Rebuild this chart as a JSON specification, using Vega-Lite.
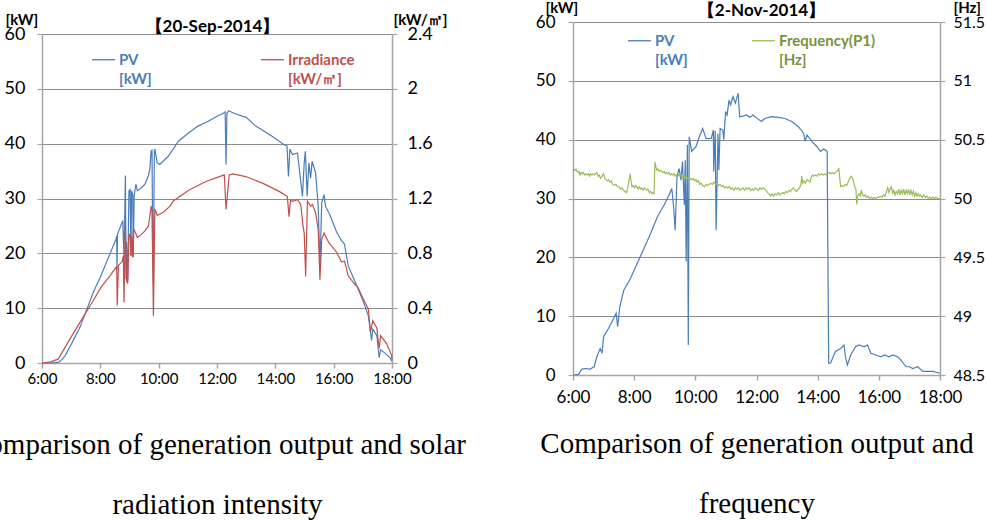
{
  "$schema": "https://vega.github.io/schema/vega-lite/v6.json",
  "autosize": {"type": "none"},
  "padding": {"left": 42, "top": 22, "right": 0, "bottom": 0},
  "params": [{"name": "width", "value": 945}, {"name": "height", "value": 499}],
  "background": "white",
  "bounds": "flush",
  "center": true,
  "spacing": 181,
  "resolve": {"scale": {"color": "independent"}, "legend": {"color": "independent"}},
  "config": {"view": {"stroke": null}, "font": "Lato"},
  "datasets": {
    "L": [
      {"t":6,"v":0,"s":"PV"},{"t":6.3,"v":0,"s":"PV"},{"t":6.55,"v":0.1,"s":"PV"},{"t":6.62,"v":0.3,"s":"PV"},{"t":6.79,"v":1.3,"s":"PV"},{"t":7.0,"v":3.4,"s":"PV"},{"t":7.3,"v":6.5,"s":"PV"},{"t":7.76,"v":12.9,"s":"PV"},{"t":8.02,"v":15.9,"s":"PV"},{"t":8.33,"v":19.9,"s":"PV"},{"t":8.54,"v":22.6,"s":"PV"},{"t":8.56,"v":23.2,"s":"PV"},{"t":8.57,"v":17.1,"s":"PV"},{"t":8.59,"v":23.5,"s":"PV"},{"t":8.7,"v":25.0,"s":"PV"},{"t":8.77,"v":26.0,"s":"PV"},{"t":8.81,"v":19.0,"s":"PV"},{"t":8.84,"v":28.0,"s":"PV"},{"t":8.86,"v":34.2,"s":"PV"},{"t":8.88,"v":15.3,"s":"PV"},{"t":8.9,"v":22.0,"s":"PV"},{"t":8.94,"v":15.0,"s":"PV"},{"t":8.98,"v":31.4,"s":"PV"},{"t":9.02,"v":31.6,"s":"PV"},{"t":9.05,"v":19.5,"s":"PV"},{"t":9.07,"v":31.4,"s":"PV"},{"t":9.11,"v":30.8,"s":"PV"},{"t":9.13,"v":19.3,"s":"PV"},{"t":9.16,"v":30.5,"s":"PV"},{"t":9.22,"v":32.6,"s":"PV"},{"t":9.27,"v":31.4,"s":"PV"},{"t":9.42,"v":32.0,"s":"PV"},{"t":9.53,"v":32.6,"s":"PV"},{"t":9.65,"v":34.2,"s":"PV"},{"t":9.7,"v":35.5,"s":"PV"},{"t":9.74,"v":38.6,"s":"PV"},{"t":9.77,"v":38.8,"s":"PV"},{"t":9.8,"v":20.0,"s":"PV"},{"t":9.82,"v":14.0,"s":"PV"},{"t":9.85,"v":38.5,"s":"PV"},{"t":9.87,"v":39.0,"s":"PV"},{"t":9.95,"v":36.5,"s":"PV"},{"t":10.04,"v":36.2,"s":"PV"},{"t":10.33,"v":37.7,"s":"PV"},{"t":10.67,"v":40.4,"s":"PV"},{"t":11.01,"v":41.9,"s":"PV"},{"t":11.35,"v":43.2,"s":"PV"},{"t":11.7,"v":44.1,"s":"PV"},{"t":12.0,"v":45.0,"s":"PV"},{"t":12.2,"v":45.5,"s":"PV"},{"t":12.28,"v":45.8,"s":"PV"},{"t":12.31,"v":36.2,"s":"PV"},{"t":12.34,"v":45.5,"s":"PV"},{"t":12.4,"v":46.0,"s":"PV"},{"t":12.6,"v":45.5,"s":"PV"},{"t":13.0,"v":44.8,"s":"PV"},{"t":13.33,"v":43.2,"s":"PV"},{"t":13.9,"v":41.3,"s":"PV"},{"t":14.3,"v":39.8,"s":"PV"},{"t":14.4,"v":39.6,"s":"PV"},{"t":14.45,"v":34.0,"s":"PV"},{"t":14.5,"v":39.0,"s":"PV"},{"t":14.59,"v":38.0,"s":"PV"},{"t":14.76,"v":38.3,"s":"PV"},{"t":14.93,"v":30.4,"s":"PV"},{"t":14.99,"v":36.5,"s":"PV"},{"t":15.03,"v":38.6,"s":"PV"},{"t":15.09,"v":30.4,"s":"PV"},{"t":15.15,"v":36.5,"s":"PV"},{"t":15.21,"v":33.7,"s":"PV"},{"t":15.26,"v":36.8,"s":"PV"},{"t":15.38,"v":34.7,"s":"PV"},{"t":15.47,"v":28.6,"s":"PV"},{"t":15.53,"v":17.6,"s":"PV"},{"t":15.59,"v":29.2,"s":"PV"},{"t":15.67,"v":30.7,"s":"PV"},{"t":15.72,"v":28.6,"s":"PV"},{"t":15.87,"v":27.0,"s":"PV"},{"t":16.1,"v":23.9,"s":"PV"},{"t":16.27,"v":22.3,"s":"PV"},{"t":16.37,"v":21.7,"s":"PV"},{"t":16.5,"v":17.7,"s":"PV"},{"t":16.67,"v":15.6,"s":"PV"},{"t":16.84,"v":13.5,"s":"PV"},{"t":17.01,"v":11.3,"s":"PV"},{"t":17.19,"v":8.6,"s":"PV"},{"t":17.3,"v":4.1,"s":"PV"},{"t":17.34,"v":6.2,"s":"PV"},{"t":17.48,"v":5.0,"s":"PV"},{"t":17.56,"v":1.0,"s":"PV"},{"t":17.61,"v":2.4,"s":"PV"},{"t":17.76,"v":1.8,"s":"PV"},{"t":17.93,"v":1.0,"s":"PV"},{"t":18,"v":0.3,"s":"PV"},
      {"t":6,"v":0,"s":"Irr"},{"t":6.3,"v":0.008,"s":"Irr"},{"t":6.55,"v":0.028,"s":"Irr"},{"t":6.62,"v":0.052,"s":"Irr"},{"t":6.96,"v":0.176,"s":"Irr"},{"t":7.3,"v":0.296,"s":"Irr"},{"t":7.76,"v":0.456,"s":"Irr"},{"t":8.02,"v":0.552,"s":"Irr"},{"t":8.33,"v":0.636,"s":"Irr"},{"t":8.54,"v":0.7,"s":"Irr"},{"t":8.56,"v":0.7,"s":"Irr"},{"t":8.58,"v":0.42,"s":"Irr"},{"t":8.62,"v":0.712,"s":"Irr"},{"t":8.75,"v":0.74,"s":"Irr"},{"t":8.79,"v":0.784,"s":"Irr"},{"t":8.81,"v":0.444,"s":"Irr"},{"t":8.86,"v":1.0,"s":"Irr"},{"t":8.9,"v":0.6,"s":"Irr"},{"t":8.94,"v":0.58,"s":"Irr"},{"t":8.98,"v":0.928,"s":"Irr"},{"t":9.02,"v":0.94,"s":"Irr"},{"t":9.05,"v":0.784,"s":"Irr"},{"t":9.07,"v":0.928,"s":"Irr"},{"t":9.11,"v":0.772,"s":"Irr"},{"t":9.13,"v":0.964,"s":"Irr"},{"t":9.16,"v":0.972,"s":"Irr"},{"t":9.27,"v":0.916,"s":"Irr"},{"t":9.42,"v":0.94,"s":"Irr"},{"t":9.53,"v":0.964,"s":"Irr"},{"t":9.65,"v":1.0,"s":"Irr"},{"t":9.7,"v":1.076,"s":"Irr"},{"t":9.74,"v":1.144,"s":"Irr"},{"t":9.77,"v":1.112,"s":"Irr"},{"t":9.82,"v":0.344,"s":"Irr"},{"t":9.87,"v":1.124,"s":"Irr"},{"t":9.95,"v":1.076,"s":"Irr"},{"t":10.16,"v":1.1,"s":"Irr"},{"t":10.39,"v":1.144,"s":"Irr"},{"t":10.49,"v":1.18,"s":"Irr"},{"t":11.06,"v":1.264,"s":"Irr"},{"t":11.62,"v":1.324,"s":"Irr"},{"t":12.08,"v":1.36,"s":"Irr"},{"t":12.25,"v":1.372,"s":"Irr"},{"t":12.31,"v":1.12,"s":"Irr"},{"t":12.42,"v":1.372,"s":"Irr"},{"t":12.54,"v":1.38,"s":"Irr"},{"t":12.99,"v":1.36,"s":"Irr"},{"t":13.56,"v":1.312,"s":"Irr"},{"t":14.13,"v":1.252,"s":"Irr"},{"t":14.41,"v":1.216,"s":"Irr"},{"t":14.47,"v":1.068,"s":"Irr"},{"t":14.52,"v":1.19,"s":"Irr"},{"t":14.58,"v":1.18,"s":"Irr"},{"t":14.76,"v":1.192,"s":"Irr"},{"t":14.87,"v":1.156,"s":"Irr"},{"t":14.95,"v":0.996,"s":"Irr"},{"t":14.99,"v":0.948,"s":"Irr"},{"t":15.04,"v":0.632,"s":"Irr"},{"t":15.1,"v":1.18,"s":"Irr"},{"t":15.21,"v":1.144,"s":"Irr"},{"t":15.27,"v":1.156,"s":"Irr"},{"t":15.38,"v":1.096,"s":"Irr"},{"t":15.47,"v":0.972,"s":"Irr"},{"t":15.53,"v":0.608,"s":"Irr"},{"t":15.59,"v":0.9,"s":"Irr"},{"t":15.67,"v":0.948,"s":"Irr"},{"t":15.84,"v":0.876,"s":"Irr"},{"t":16.1,"v":0.808,"s":"Irr"},{"t":16.27,"v":0.736,"s":"Irr"},{"t":16.37,"v":0.744,"s":"Irr"},{"t":16.5,"v":0.636,"s":"Irr"},{"t":16.67,"v":0.588,"s":"Irr"},{"t":16.84,"v":0.548,"s":"Irr"},{"t":17.01,"v":0.468,"s":"Irr"},{"t":17.19,"v":0.392,"s":"Irr"},{"t":17.26,"v":0.224,"s":"Irr"},{"t":17.34,"v":0.308,"s":"Irr"},{"t":17.48,"v":0.256,"s":"Irr"},{"t":17.56,"v":0.104,"s":"Irr"},{"t":17.61,"v":0.2,"s":"Irr"},{"t":17.82,"v":0.14,"s":"Irr"},{"t":17.99,"v":0.052,"s":"Irr"},{"t":18,"v":0.024,"s":"Irr"}
    ],
    "R": [
      {"t":6,"v":0,"s":"PV"},{"t":6.18,"v":0.1,"s":"PV"},{"t":6.29,"v":1.0,"s":"PV"},{"t":6.4,"v":1.1,"s":"PV"},{"t":6.56,"v":1.0,"s":"PV"},{"t":6.69,"v":1.4,"s":"PV"},{"t":6.78,"v":3.1,"s":"PV"},{"t":6.89,"v":4.5,"s":"PV"},{"t":6.95,"v":3.7,"s":"PV"},{"t":7.0,"v":6.5,"s":"PV"},{"t":7.16,"v":7.9,"s":"PV"},{"t":7.33,"v":9.6,"s":"PV"},{"t":7.41,"v":10.5,"s":"PV"},{"t":7.46,"v":8.2,"s":"PV"},{"t":7.53,"v":11.6,"s":"PV"},{"t":7.66,"v":14.4,"s":"PV"},{"t":7.88,"v":16.4,"s":"PV"},{"t":8.1,"v":19.0,"s":"PV"},{"t":8.32,"v":21.5,"s":"PV"},{"t":8.54,"v":24.1,"s":"PV"},{"t":8.76,"v":26.9,"s":"PV"},{"t":8.98,"v":28.9,"s":"PV"},{"t":9.14,"v":30.6,"s":"PV"},{"t":9.23,"v":31.7,"s":"PV"},{"t":9.29,"v":28.6,"s":"PV"},{"t":9.34,"v":24.6,"s":"PV"},{"t":9.4,"v":33.7,"s":"PV"},{"t":9.47,"v":35.1,"s":"PV"},{"t":9.53,"v":33.1,"s":"PV"},{"t":9.58,"v":36.3,"s":"PV"},{"t":9.64,"v":28.9,"s":"PV"},{"t":9.67,"v":36.5,"s":"PV"},{"t":9.7,"v":19.3,"s":"PV"},{"t":9.74,"v":39.1,"s":"PV"},{"t":9.77,"v":5.1,"s":"PV"},{"t":9.8,"v":40.5,"s":"PV"},{"t":9.88,"v":38.0,"s":"PV"},{"t":10.02,"v":38.8,"s":"PV"},{"t":10.13,"v":40.5,"s":"PV"},{"t":10.24,"v":41.9,"s":"PV"},{"t":10.35,"v":40.2,"s":"PV"},{"t":10.52,"v":40.2,"s":"PV"},{"t":10.59,"v":41.6,"s":"PV"},{"t":10.6,"v":34.6,"s":"PV"},{"t":10.65,"v":41.5,"s":"PV"},{"t":10.68,"v":24.6,"s":"PV"},{"t":10.74,"v":41.0,"s":"PV"},{"t":10.77,"v":34.8,"s":"PV"},{"t":10.81,"v":41.9,"s":"PV"},{"t":10.9,"v":41.6,"s":"PV"},{"t":10.93,"v":40.0,"s":"PV"},{"t":10.99,"v":44.8,"s":"PV"},{"t":11.04,"v":44.2,"s":"PV"},{"t":11.1,"v":46.7,"s":"PV"},{"t":11.15,"v":45.9,"s":"PV"},{"t":11.23,"v":47.3,"s":"PV"},{"t":11.31,"v":46.2,"s":"PV"},{"t":11.4,"v":47.9,"s":"PV"},{"t":11.45,"v":43.9,"s":"PV"},{"t":11.56,"v":44.0,"s":"PV"},{"t":11.67,"v":44.2,"s":"PV"},{"t":11.78,"v":43.8,"s":"PV"},{"t":11.89,"v":44.2,"s":"PV"},{"t":12.0,"v":43.7,"s":"PV"},{"t":12.16,"v":43.1,"s":"PV"},{"t":12.27,"v":43.6,"s":"PV"},{"t":12.49,"v":43.9,"s":"PV"},{"t":12.71,"v":43.8,"s":"PV"},{"t":12.93,"v":43.6,"s":"PV"},{"t":13.15,"v":43.1,"s":"PV"},{"t":13.37,"v":42.2,"s":"PV"},{"t":13.54,"v":41.1,"s":"PV"},{"t":13.59,"v":39.7,"s":"PV"},{"t":13.65,"v":40.8,"s":"PV"},{"t":13.81,"v":39.7,"s":"PV"},{"t":13.98,"v":38.8,"s":"PV"},{"t":14.09,"v":38.0,"s":"PV"},{"t":14.2,"v":38.4,"s":"PV"},{"t":14.31,"v":38.0,"s":"PV"},{"t":14.36,"v":2.0,"s":"PV"},{"t":14.42,"v":2.0,"s":"PV"},{"t":14.58,"v":4.0,"s":"PV"},{"t":14.75,"v":4.5,"s":"PV"},{"t":14.86,"v":5.1,"s":"PV"},{"t":14.91,"v":3.1,"s":"PV"},{"t":14.97,"v":1.7,"s":"PV"},{"t":15.08,"v":3.4,"s":"PV"},{"t":15.24,"v":4.8,"s":"PV"},{"t":15.35,"v":5.1,"s":"PV"},{"t":15.52,"v":4.8,"s":"PV"},{"t":15.63,"v":5.1,"s":"PV"},{"t":15.74,"v":3.7,"s":"PV"},{"t":15.9,"v":3.4,"s":"PV"},{"t":16.07,"v":3.1,"s":"PV"},{"t":16.18,"v":3.4,"s":"PV"},{"t":16.34,"v":3.1,"s":"PV"},{"t":16.45,"v":3.4,"s":"PV"},{"t":16.62,"v":3.1,"s":"PV"},{"t":16.73,"v":2.5,"s":"PV"},{"t":16.89,"v":1.4,"s":"PV"},{"t":17.0,"v":1.4,"s":"PV"},{"t":17.11,"v":1.1,"s":"PV"},{"t":17.27,"v":1.4,"s":"PV"},{"t":17.44,"v":0.6,"s":"PV"},{"t":17.77,"v":0.6,"s":"PV"},{"t":18,"v":0.3,"s":"PV"},
      {"t":6.0,"v":50.23,"s":"Freq"},{"t":6.04,"v":50.25,"s":"Freq"},{"t":6.07,"v":50.24,"s":"Freq"},{"t":6.1,"v":50.25,"s":"Freq"},{"t":6.13,"v":50.23,"s":"Freq"},{"t":6.17,"v":50.22,"s":"Freq"},{"t":6.2,"v":50.23,"s":"Freq"},{"t":6.23,"v":50.2,"s":"Freq"},{"t":6.27,"v":50.22,"s":"Freq"},{"t":6.3,"v":50.21,"s":"Freq"},{"t":6.34,"v":50.22,"s":"Freq"},{"t":6.38,"v":50.2,"s":"Freq"},{"t":6.42,"v":50.21,"s":"Freq"},{"t":6.46,"v":50.2,"s":"Freq"},{"t":6.5,"v":50.21,"s":"Freq"},{"t":6.54,"v":50.19,"s":"Freq"},{"t":6.58,"v":50.21,"s":"Freq"},{"t":6.62,"v":50.2,"s":"Freq"},{"t":6.66,"v":50.21,"s":"Freq"},{"t":6.7,"v":50.2,"s":"Freq"},{"t":6.74,"v":50.21,"s":"Freq"},{"t":6.78,"v":50.22,"s":"Freq"},{"t":6.82,"v":50.19,"s":"Freq"},{"t":6.86,"v":50.2,"s":"Freq"},{"t":6.9,"v":50.17,"s":"Freq"},{"t":6.95,"v":50.19,"s":"Freq"},{"t":7.0,"v":50.21,"s":"Freq"},{"t":7.04,"v":50.17,"s":"Freq"},{"t":7.08,"v":50.16,"s":"Freq"},{"t":7.12,"v":50.15,"s":"Freq"},{"t":7.16,"v":50.16,"s":"Freq"},{"t":7.2,"v":50.14,"s":"Freq"},{"t":7.25,"v":50.15,"s":"Freq"},{"t":7.3,"v":50.12,"s":"Freq"},{"t":7.35,"v":50.11,"s":"Freq"},{"t":7.4,"v":50.12,"s":"Freq"},{"t":7.45,"v":50.1,"s":"Freq"},{"t":7.5,"v":50.1,"s":"Freq"},{"t":7.55,"v":50.08,"s":"Freq"},{"t":7.6,"v":50.09,"s":"Freq"},{"t":7.65,"v":50.07,"s":"Freq"},{"t":7.7,"v":50.06,"s":"Freq"},{"t":7.75,"v":50.05,"s":"Freq"},{"t":7.78,"v":50.08,"s":"Freq"},{"t":7.81,"v":50.12,"s":"Freq"},{"t":7.84,"v":50.17,"s":"Freq"},{"t":7.87,"v":50.21,"s":"Freq"},{"t":7.9,"v":50.14,"s":"Freq"},{"t":7.93,"v":50.1,"s":"Freq"},{"t":7.97,"v":50.11,"s":"Freq"},{"t":8.01,"v":50.09,"s":"Freq"},{"t":8.05,"v":50.11,"s":"Freq"},{"t":8.09,"v":50.1,"s":"Freq"},{"t":8.13,"v":50.08,"s":"Freq"},{"t":8.17,"v":50.1,"s":"Freq"},{"t":8.21,"v":50.08,"s":"Freq"},{"t":8.25,"v":50.09,"s":"Freq"},{"t":8.29,"v":50.07,"s":"Freq"},{"t":8.33,"v":50.09,"s":"Freq"},{"t":8.37,"v":50.08,"s":"Freq"},{"t":8.41,"v":50.07,"s":"Freq"},{"t":8.45,"v":50.08,"s":"Freq"},{"t":8.5,"v":50.05,"s":"Freq"},{"t":8.54,"v":50.06,"s":"Freq"},{"t":8.58,"v":50.04,"s":"Freq"},{"t":8.62,"v":50.05,"s":"Freq"},{"t":8.65,"v":50.04,"s":"Freq"},{"t":8.68,"v":50.31,"s":"Freq"},{"t":8.71,"v":50.27,"s":"Freq"},{"t":8.74,"v":50.24,"s":"Freq"},{"t":8.78,"v":50.25,"s":"Freq"},{"t":8.82,"v":50.23,"s":"Freq"},{"t":8.86,"v":50.24,"s":"Freq"},{"t":8.9,"v":50.23,"s":"Freq"},{"t":8.94,"v":50.22,"s":"Freq"},{"t":8.98,"v":50.23,"s":"Freq"},{"t":9.02,"v":50.21,"s":"Freq"},{"t":9.06,"v":50.22,"s":"Freq"},{"t":9.1,"v":50.21,"s":"Freq"},{"t":9.14,"v":50.22,"s":"Freq"},{"t":9.18,"v":50.2,"s":"Freq"},{"t":9.22,"v":50.21,"s":"Freq"},{"t":9.26,"v":50.2,"s":"Freq"},{"t":9.3,"v":50.21,"s":"Freq"},{"t":9.34,"v":50.19,"s":"Freq"},{"t":9.38,"v":50.2,"s":"Freq"},{"t":9.42,"v":50.19,"s":"Freq"},{"t":9.46,"v":50.2,"s":"Freq"},{"t":9.5,"v":50.19,"s":"Freq"},{"t":9.54,"v":50.2,"s":"Freq"},{"t":9.58,"v":50.18,"s":"Freq"},{"t":9.62,"v":50.19,"s":"Freq"},{"t":9.66,"v":50.17,"s":"Freq"},{"t":9.7,"v":50.19,"s":"Freq"},{"t":9.74,"v":50.17,"s":"Freq"},{"t":9.78,"v":50.18,"s":"Freq"},{"t":9.82,"v":50.16,"s":"Freq"},{"t":9.86,"v":50.17,"s":"Freq"},{"t":9.9,"v":50.16,"s":"Freq"},{"t":9.94,"v":50.17,"s":"Freq"},{"t":9.98,"v":50.15,"s":"Freq"},{"t":10.02,"v":50.16,"s":"Freq"},{"t":10.06,"v":50.14,"s":"Freq"},{"t":10.1,"v":50.15,"s":"Freq"},{"t":10.14,"v":50.12,"s":"Freq"},{"t":10.19,"v":50.13,"s":"Freq"},{"t":10.24,"v":50.11,"s":"Freq"},{"t":10.3,"v":50.1,"s":"Freq"},{"t":10.35,"v":50.12,"s":"Freq"},{"t":10.4,"v":50.11,"s":"Freq"},{"t":10.46,"v":50.12,"s":"Freq"},{"t":10.51,"v":50.13,"s":"Freq"},{"t":10.56,"v":50.12,"s":"Freq"},{"t":10.61,"v":50.14,"s":"Freq"},{"t":10.66,"v":50.12,"s":"Freq"},{"t":10.71,"v":50.13,"s":"Freq"},{"t":10.76,"v":50.11,"s":"Freq"},{"t":10.81,"v":50.12,"s":"Freq"},{"t":10.86,"v":50.1,"s":"Freq"},{"t":10.91,"v":50.11,"s":"Freq"},{"t":10.96,"v":50.09,"s":"Freq"},{"t":11.01,"v":50.1,"s":"Freq"},{"t":11.06,"v":50.09,"s":"Freq"},{"t":11.11,"v":50.1,"s":"Freq"},{"t":11.16,"v":50.08,"s":"Freq"},{"t":11.21,"v":50.09,"s":"Freq"},{"t":11.26,"v":50.07,"s":"Freq"},{"t":11.31,"v":50.09,"s":"Freq"},{"t":11.36,"v":50.08,"s":"Freq"},{"t":11.41,"v":50.09,"s":"Freq"},{"t":11.46,"v":50.07,"s":"Freq"},{"t":11.51,"v":50.08,"s":"Freq"},{"t":11.56,"v":50.09,"s":"Freq"},{"t":11.61,"v":50.07,"s":"Freq"},{"t":11.66,"v":50.09,"s":"Freq"},{"t":11.71,"v":50.08,"s":"Freq"},{"t":11.76,"v":50.09,"s":"Freq"},{"t":11.81,"v":50.07,"s":"Freq"},{"t":11.86,"v":50.08,"s":"Freq"},{"t":11.91,"v":50.07,"s":"Freq"},{"t":11.96,"v":50.09,"s":"Freq"},{"t":12.01,"v":50.08,"s":"Freq"},{"t":12.06,"v":50.07,"s":"Freq"},{"t":12.11,"v":50.09,"s":"Freq"},{"t":12.16,"v":50.08,"s":"Freq"},{"t":12.21,"v":50.09,"s":"Freq"},{"t":12.26,"v":50.08,"s":"Freq"},{"t":12.31,"v":50.07,"s":"Freq"},{"t":12.36,"v":50.05,"s":"Freq"},{"t":12.41,"v":50.04,"s":"Freq"},{"t":12.46,"v":50.02,"s":"Freq"},{"t":12.51,"v":50.04,"s":"Freq"},{"t":12.56,"v":50.02,"s":"Freq"},{"t":12.61,"v":50.04,"s":"Freq"},{"t":12.66,"v":50.03,"s":"Freq"},{"t":12.71,"v":50.05,"s":"Freq"},{"t":12.76,"v":50.03,"s":"Freq"},{"t":12.81,"v":50.04,"s":"Freq"},{"t":12.86,"v":50.05,"s":"Freq"},{"t":12.91,"v":50.04,"s":"Freq"},{"t":12.96,"v":50.06,"s":"Freq"},{"t":13.01,"v":50.05,"s":"Freq"},{"t":13.06,"v":50.07,"s":"Freq"},{"t":13.11,"v":50.06,"s":"Freq"},{"t":13.16,"v":50.08,"s":"Freq"},{"t":13.21,"v":50.09,"s":"Freq"},{"t":13.26,"v":50.07,"s":"Freq"},{"t":13.31,"v":50.06,"s":"Freq"},{"t":13.36,"v":50.08,"s":"Freq"},{"t":13.41,"v":50.09,"s":"Freq"},{"t":13.45,"v":50.12,"s":"Freq"},{"t":13.48,"v":50.19,"s":"Freq"},{"t":13.51,"v":50.13,"s":"Freq"},{"t":13.55,"v":50.15,"s":"Freq"},{"t":13.6,"v":50.13,"s":"Freq"},{"t":13.65,"v":50.16,"s":"Freq"},{"t":13.7,"v":50.15,"s":"Freq"},{"t":13.75,"v":50.14,"s":"Freq"},{"t":13.79,"v":50.18,"s":"Freq"},{"t":13.83,"v":50.2,"s":"Freq"},{"t":13.88,"v":50.19,"s":"Freq"},{"t":13.93,"v":50.2,"s":"Freq"},{"t":13.98,"v":50.19,"s":"Freq"},{"t":14.03,"v":50.21,"s":"Freq"},{"t":14.08,"v":50.2,"s":"Freq"},{"t":14.13,"v":50.21,"s":"Freq"},{"t":14.18,"v":50.2,"s":"Freq"},{"t":14.23,"v":50.21,"s":"Freq"},{"t":14.28,"v":50.2,"s":"Freq"},{"t":14.33,"v":50.21,"s":"Freq"},{"t":14.38,"v":50.22,"s":"Freq"},{"t":14.43,"v":50.21,"s":"Freq"},{"t":14.48,"v":50.22,"s":"Freq"},{"t":14.53,"v":50.21,"s":"Freq"},{"t":14.58,"v":50.22,"s":"Freq"},{"t":14.62,"v":50.23,"s":"Freq"},{"t":14.66,"v":50.24,"s":"Freq"},{"t":14.69,"v":50.26,"s":"Freq"},{"t":14.72,"v":50.18,"s":"Freq"},{"t":14.75,"v":50.1,"s":"Freq"},{"t":14.8,"v":50.11,"s":"Freq"},{"t":14.85,"v":50.1,"s":"Freq"},{"t":14.9,"v":50.12,"s":"Freq"},{"t":14.95,"v":50.11,"s":"Freq"},{"t":15.0,"v":50.14,"s":"Freq"},{"t":15.05,"v":50.17,"s":"Freq"},{"t":15.09,"v":50.19,"s":"Freq"},{"t":15.13,"v":50.18,"s":"Freq"},{"t":15.17,"v":50.15,"s":"Freq"},{"t":15.21,"v":50.1,"s":"Freq"},{"t":15.25,"v":50.08,"s":"Freq"},{"t":15.28,"v":49.95,"s":"Freq"},{"t":15.31,"v":50.02,"s":"Freq"},{"t":15.35,"v":50.04,"s":"Freq"},{"t":15.39,"v":50.02,"s":"Freq"},{"t":15.43,"v":50.07,"s":"Freq"},{"t":15.47,"v":50.03,"s":"Freq"},{"t":15.51,"v":50.02,"s":"Freq"},{"t":15.55,"v":50.03,"s":"Freq"},{"t":15.6,"v":50.01,"s":"Freq"},{"t":15.65,"v":50.02,"s":"Freq"},{"t":15.7,"v":50.0,"s":"Freq"},{"t":15.75,"v":50.01,"s":"Freq"},{"t":15.8,"v":50.0,"s":"Freq"},{"t":15.85,"v":50.01,"s":"Freq"},{"t":15.9,"v":50.0,"s":"Freq"},{"t":15.95,"v":50.01,"s":"Freq"},{"t":16.0,"v":50.01,"s":"Freq"},{"t":16.05,"v":50.02,"s":"Freq"},{"t":16.1,"v":50.01,"s":"Freq"},{"t":16.15,"v":50.03,"s":"Freq"},{"t":16.2,"v":50.02,"s":"Freq"},{"t":16.25,"v":50.06,"s":"Freq"},{"t":16.29,"v":50.09,"s":"Freq"},{"t":16.33,"v":50.05,"s":"Freq"},{"t":16.37,"v":50.08,"s":"Freq"},{"t":16.41,"v":50.1,"s":"Freq"},{"t":16.45,"v":50.04,"s":"Freq"},{"t":16.49,"v":50.07,"s":"Freq"},{"t":16.53,"v":50.03,"s":"Freq"},{"t":16.57,"v":50.06,"s":"Freq"},{"t":16.61,"v":50.04,"s":"Freq"},{"t":16.65,"v":50.08,"s":"Freq"},{"t":16.69,"v":50.03,"s":"Freq"},{"t":16.73,"v":50.07,"s":"Freq"},{"t":16.77,"v":50.04,"s":"Freq"},{"t":16.81,"v":50.08,"s":"Freq"},{"t":16.85,"v":50.03,"s":"Freq"},{"t":16.89,"v":50.07,"s":"Freq"},{"t":16.93,"v":50.04,"s":"Freq"},{"t":16.97,"v":50.08,"s":"Freq"},{"t":17.01,"v":50.03,"s":"Freq"},{"t":17.05,"v":50.07,"s":"Freq"},{"t":17.09,"v":50.03,"s":"Freq"},{"t":17.13,"v":50.06,"s":"Freq"},{"t":17.17,"v":50.02,"s":"Freq"},{"t":17.21,"v":50.05,"s":"Freq"},{"t":17.25,"v":50.02,"s":"Freq"},{"t":17.29,"v":50.04,"s":"Freq"},{"t":17.33,"v":50.02,"s":"Freq"},{"t":17.37,"v":50.03,"s":"Freq"},{"t":17.42,"v":50.01,"s":"Freq"},{"t":17.47,"v":50.03,"s":"Freq"},{"t":17.52,"v":50.01,"s":"Freq"},{"t":17.57,"v":50.02,"s":"Freq"},{"t":17.62,"v":50.0,"s":"Freq"},{"t":17.67,"v":50.01,"s":"Freq"},{"t":17.72,"v":50.0,"s":"Freq"},{"t":17.77,"v":50.01,"s":"Freq"},{"t":17.82,"v":50.0,"s":"Freq"},{"t":17.87,"v":50.01,"s":"Freq"},{"t":17.92,"v":50.0,"s":"Freq"},{"t":17.97,"v":50.0,"s":"Freq"},{"t":18.0,"v":50.0,"s":"Freq"}
    ]
  },
  "hconcat": [
    {
      "width": 350,
      "height": 329,
      "data": {"name": "L"},
      "encoding": {
        "x": {
          "field": "t", "type": "quantitative",
          "scale": {"domain": [6, 18], "nice": false},
          "axis": {
            "values": [6, 8, 10, 12, 14, 16, 18],
            "labelExpr": "datum.value + ':00'",
            "labelFlush": false, "labelOverlap": false,
            "grid": false,
            "domainColor": "#a6a6a6", "domainWidth": 1.5,
            "tickColor": "#a6a6a6", "tickSize": 5, "tickWidth": 1.5,
            "labelFont": "Lato", "labelFontSize": 15, "labelColor": "#000000", "labelPadding": 3,
            "title": ["Comparison of generation output and solar", "radiation intensity"],
            "titleFont": "Liberation Serif", "titleFontSize": 29, "titleFontWeight": "normal",
            "titleColor": "#000000", "titleLineHeight": 60, "titlePadding": 44
          }
        },
        "color": {
          "field": "s", "type": "nominal",
          "scale": {"domain": ["PV", "Irr"], "range": ["#4a7ebb", "#c0504d"]},
          "legend": {
            "orient": "none", "legendX": 49, "legendY": 13, "direction": "horizontal",
            "title": null, "padding": 0,
            "symbolType": "stroke", "symbolSize": 529, "symbolStrokeWidth": 1.3,
            "labelFont": "Lato", "labelFontSize": 15, "labelFontWeight": "bold",
            "labelOffset": 3, "columnPadding": 106, "labelLimit": 300,
            "labelExpr": "datum.label == 'PV' ? ['PV', '[kW]'] : ['Irradiance', '[kW/㎡]']",
            "encode": {"labels": {"update": {
              "fill": {"signal": "datum.label == 'PV' ? '#4a7ebb' : '#c0504d'"},
              "lineHeight": {"value": 19}
            }}}
          }
        }
      },
      "layer": [
        {
          "transform": [{"filter": "datum.s == 'PV'"}],
          "mark": {"type": "line", "strokeWidth": 1.2},
          "encoding": {
            "y": {
              "field": "v", "type": "quantitative",
              "scale": {"domain": [0, 60], "nice": false},
              "axis": {
                "orient": "left", "values": [0, 10, 20, 30, 40, 50, 60],
                "grid": true, "gridColor": "#8c8c8c", "gridWidth": 1.2,
                "domainColor": "#a6a6a6", "domainWidth": 1.5,
                "tickColor": "#a6a6a6", "tickSize": 5, "tickWidth": 1.2,
                "labelFont": "Lato", "labelFontSize": 18, "labelColor": "#000000", "labelPadding": 12,
                "title": "[kW]", "titleAngle": 0, "titleAlign": "left", "titleBaseline": "alphabetic",
                "titleX": -37, "titleY": -10,
                "titleFont": "Lato", "titleFontSize": 15, "titleFontWeight": "bold", "titleColor": "#000000"
              }
            }
          }
        },
        {
          "transform": [{"filter": "datum.s == 'Irr'"}],
          "mark": {"type": "line", "strokeWidth": 1.2},
          "encoding": {
            "x": {
              "field": "t", "type": "quantitative",
              "axis": {
                "orient": "top", "domain": false, "ticks": false, "labels": false, "grid": false,
                "title": "【20-Sep-2014】", "titleFont": "Lato", "titleFontSize": 17, "titleFontWeight": "bold",
                "titleColor": "#000000", "titleBaseline": "alphabetic", "titleAlign": "center",
                "titleX": 170, "titleY": -3
              }
            },
            "y": {
              "field": "v", "type": "quantitative",
              "scale": {"domain": [0, 2.4], "nice": false},
              "axis": {
                "orient": "right", "values": [0, 0.4, 0.8, 1.2, 1.6, 2, 2.4], "format": "~g",
                "grid": false,
                "domainColor": "#a6a6a6", "domainWidth": 1.5,
                "tickColor": "#a6a6a6", "tickSize": 5, "tickWidth": 1.2,
                "labelFont": "Lato", "labelFontSize": 18, "labelColor": "#000000", "labelPadding": 10,
                "title": "[kW/㎡]", "titleAngle": 0, "titleAlign": "left", "titleBaseline": "alphabetic",
                "titleX": 1, "titleY": -10,
                "titleFont": "Lato", "titleFontSize": 15, "titleFontWeight": "bold", "titleColor": "#000000"
              }
            }
          }
        }
      ],
      "resolve": {"scale": {"y": "independent"}, "axis": {"x": "independent"}}
    },
    {
      "width": 367,
      "height": 353,
      "data": {"name": "R"},
      "encoding": {
        "x": {
          "field": "t", "type": "quantitative",
          "scale": {"domain": [6, 18], "nice": false},
          "axis": {
            "values": [6, 8, 10, 12, 14, 16, 18],
            "labelExpr": "datum.value + ':00'",
            "labelFlush": false, "labelOverlap": false,
            "grid": false,
            "domainColor": "#a6a6a6", "domainWidth": 1.5,
            "tickColor": "#a6a6a6", "tickSize": 5, "tickWidth": 1.5,
            "labelFont": "Lato", "labelFontSize": 17, "labelColor": "#000000", "labelPadding": 9,
            "title": ["Comparison of generation output and", "frequency"],
            "titleFont": "Liberation Serif", "titleFontSize": 29, "titleFontWeight": "normal",
            "titleColor": "#000000", "titleLineHeight": 60, "titlePadding": 24
          }
        },
        "color": {
          "field": "s", "type": "nominal",
          "scale": {"domain": ["PV", "Freq"], "range": ["#4a7ebb", "#9bbb59"]},
          "legend": {
            "orient": "none", "legendX": 54, "legendY": 6, "direction": "horizontal",
            "title": null, "padding": 0,
            "symbolType": "stroke", "symbolSize": 529, "symbolStrokeWidth": 1.3,
            "labelFont": "Lato", "labelFontSize": 15, "labelFontWeight": "bold",
            "labelOffset": 3, "columnPadding": 61, "labelLimit": 300,
            "labelExpr": "datum.label == 'PV' ? ['PV', '[kW]'] : ['Frequency(P1)', '[Hz]']",
            "encode": {"labels": {"update": {
              "fill": {"signal": "datum.label == 'PV' ? '#4a7ebb' : '#77933c'"},
              "lineHeight": {"value": 19}
            }}}
          }
        }
      },
      "layer": [
        {
          "transform": [{"filter": "datum.s == 'PV'"}],
          "mark": {"type": "line", "strokeWidth": 1.2},
          "encoding": {
            "y": {
              "field": "v", "type": "quantitative",
              "scale": {"domain": [0, 60], "nice": false},
              "axis": {
                "orient": "left", "values": [0, 10, 20, 30, 40, 50, 60],
                "grid": true, "gridColor": "#8c8c8c", "gridWidth": 1.2,
                "domainColor": "#a6a6a6", "domainWidth": 1.5,
                "tickColor": "#a6a6a6", "tickSize": 5, "tickWidth": 1.2,
                "labelFont": "Lato", "labelFontSize": 17, "labelColor": "#000000", "labelPadding": 13,
                "title": "[kW]", "titleAngle": 0, "titleAlign": "left", "titleBaseline": "alphabetic",
                "titleX": -28, "titleY": -10,
                "titleFont": "Lato", "titleFontSize": 15, "titleFontWeight": "bold", "titleColor": "#000000"
              }
            }
          }
        },
        {
          "transform": [{"filter": "datum.s == 'Freq'"}],
          "mark": {"type": "line", "strokeWidth": 1.2},
          "encoding": {
            "x": {
              "field": "t", "type": "quantitative",
              "axis": {
                "orient": "top", "domain": false, "ticks": false, "labels": false, "grid": false,
                "title": "【2-Nov-2014】", "titleFont": "Lato", "titleFontSize": 17, "titleFontWeight": "bold",
                "titleColor": "#000000", "titleBaseline": "alphabetic", "titleAlign": "center",
                "titleX": 188, "titleY": -7
              }
            },
            "y": {
              "field": "v", "type": "quantitative",
              "scale": {"domain": [48.5, 51.5], "nice": false},
              "axis": {
                "orient": "right", "values": [48.5, 49, 49.5, 50, 50.5, 51, 51.5], "format": "~g",
                "grid": false,
                "domainColor": "#a6a6a6", "domainWidth": 1.5,
                "tickColor": "#a6a6a6", "tickSize": 5, "tickWidth": 1.2,
                "labelFont": "Lato", "labelFontSize": 16, "labelColor": "#000000", "labelPadding": 8,
                "title": "[Hz]", "titleAngle": 0, "titleAlign": "left", "titleBaseline": "alphabetic",
                "titleX": 13, "titleY": -10,
                "titleFont": "Lato", "titleFontSize": 15, "titleFontWeight": "bold", "titleColor": "#000000"
              }
            }
          }
        }
      ],
      "resolve": {"scale": {"y": "independent"}, "axis": {"x": "independent"}}
    }
  ]
}
